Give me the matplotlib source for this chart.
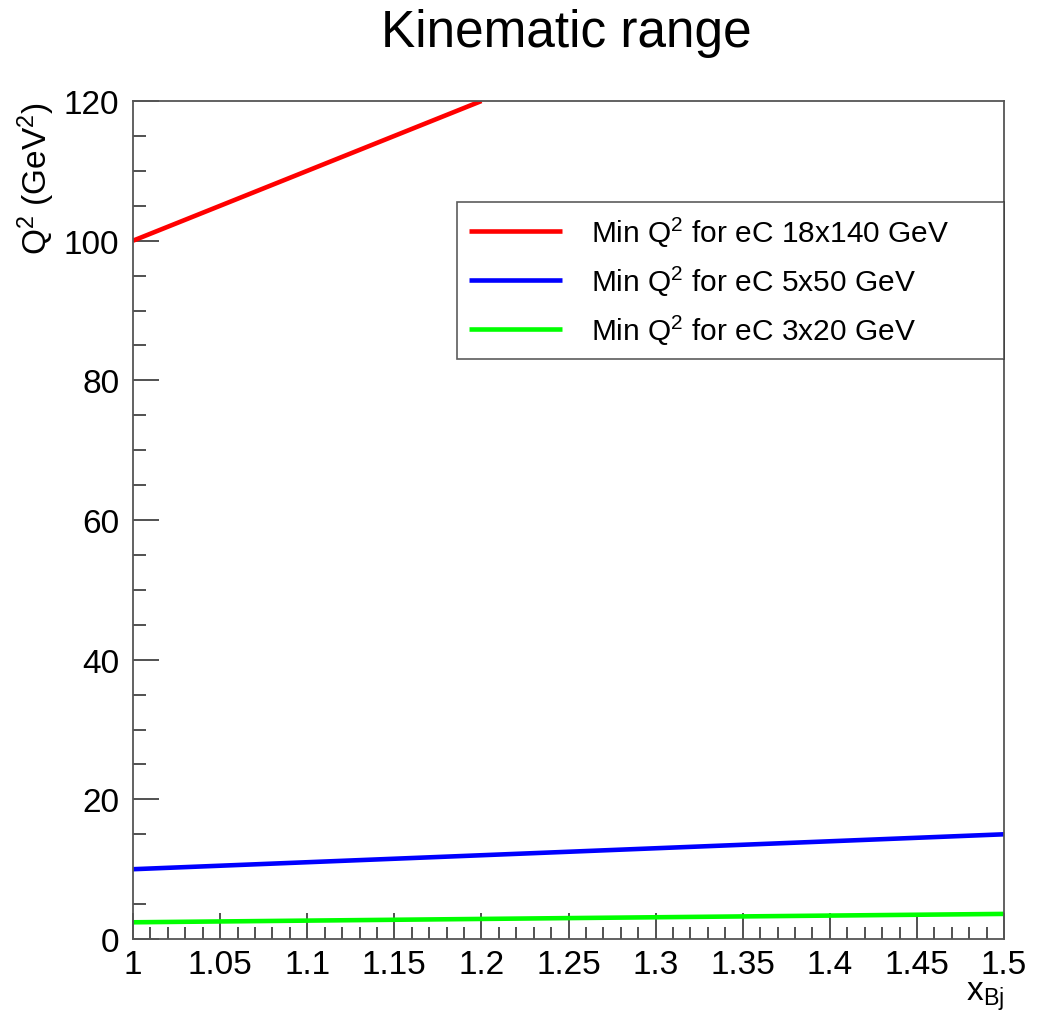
import matplotlib
matplotlib.use("Agg")
import matplotlib.pyplot as plt
from matplotlib.ticker import MultipleLocator

plt.rcParams['font.family'] = ['Liberation Sans', 'DejaVu Sans']
plt.rcParams['mathtext.fontset'] = 'custom'
plt.rcParams['mathtext.rm'] = 'Liberation Sans'
plt.rcParams['mathtext.it'] = 'Liberation Sans'

# Data
x_red = [1.0, 1.2]
q2_red = [100.0, 120.0]
x_blue = [1.0, 1.5]
q2_blue = [10.0, 15.0]
x_green = [1.0, 1.5]
q2_green = [2.4, 3.6]

labels = [r'Min Q$^{2}$ for eC 18x140 GeV',
          r'Min Q$^{2}$ for eC 5x50 GeV',
          r'Min Q$^{2}$ for eC 3x20 GeV']

fig = plt.figure(figsize=(10.41, 10.12), dpi=100)
ax = fig.add_axes([0.1278, 0.0711, 0.8367, 0.8281])

ax.plot(x_red, q2_red, color='#ff0000', lw=3.3, label=labels[0], solid_capstyle='butt')
ax.plot(x_blue, q2_blue, color='#0000ff', lw=3.3, label=labels[1], solid_capstyle='butt')
ax.plot(x_green, q2_green, color='#00ff00', lw=3.3, label=labels[2], solid_capstyle='butt')

ax.set_xlim(1, 1.5)
ax.set_ylim(0, 120)

ax.xaxis.set_minor_locator(MultipleLocator(0.01))
ax.yaxis.set_major_locator(MultipleLocator(20))
ax.yaxis.set_minor_locator(MultipleLocator(5))
ax.set_xticks([1, 1.05, 1.1, 1.15, 1.2, 1.25, 1.3, 1.35, 1.4, 1.45, 1.5])
ax.set_xticklabels(['1', '1.05', '1.1', '1.15', '1.2', '1.25', '1.3', '1.35',
                    '1.4', '1.45', '1.5'])

ax.tick_params(which='both', direction='in', top=False, right=False,
               labelsize=24, color='#333333', width=1.2)
ax.tick_params(which='major', length=19)
ax.tick_params(which='minor', length=9)
ax.tick_params(axis='x', pad=7)
ax.tick_params(axis='y', pad=10)
for s in ax.spines.values():
    s.set_color('#555555')
    s.set_linewidth(1.3)

fig.text(0.544, 0.9536, 'Kinematic range', ha='center', va='baseline', fontsize=37)
ax.set_xlabel(r'x$_{\mathrm{Bj}}$', fontsize=24, loc='right', labelpad=0)
ax.set_ylabel(r'Q$^{2}$ (GeV$^{2}$)', fontsize=24, loc='top', labelpad=5)

leg = ax.legend(loc='upper left', bbox_to_anchor=(0.372, 0.879, 0.628, 0.0),
                mode='expand', fontsize=21.5,
                frameon=True, fancybox=False, edgecolor='#333333',
                handlelength=3.1, handletextpad=1.0, labelspacing=0.5,
                borderpad=0.4, borderaxespad=0)
leg.get_frame().set_linewidth(1.2)

fig.savefig('out.png', dpi=100)
